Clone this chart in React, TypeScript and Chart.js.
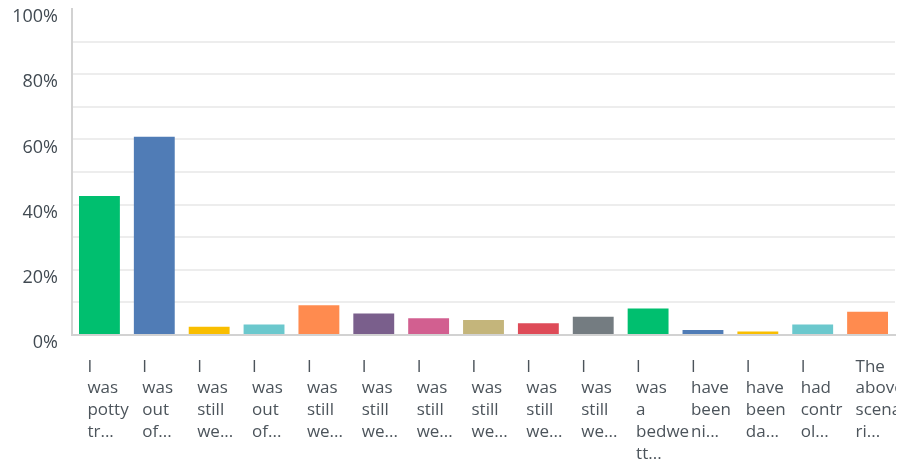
import React, { useEffect, useRef } from 'react';
import { Chart, registerables } from 'chart.js';

Chart.register(...registerables);

const categories: string[][] = [
  ['I', 'was', 'potty', 'tr...'],
  ['I', 'was', 'out', 'of...'],
  ['I', 'was', 'still', 'we...'],
  ['I', 'was', 'out', 'of...'],
  ['I', 'was', 'still', 'we...'],
  ['I', 'was', 'still', 'we...'],
  ['I', 'was', 'still', 'we...'],
  ['I', 'was', 'still', 'we...'],
  ['I', 'was', 'still', 'we...'],
  ['I', 'was', 'still', 'we...'],
  ['I', 'was', 'a', 'bedwe', 'tt...'],
  ['I', 'have', 'been', 'ni...'],
  ['I', 'have', 'been', 'da...'],
  ['I', 'had', 'contr', 'ol...'],
  ['The', 'above', 'scena', 'ri...'],
];

const percentages: number[] = [42.6, 60.8, 2.5, 3.2, 9.1, 6.6, 5.1, 4.6, 3.6, 5.6, 8.1, 1.5, 1.1, 3.2, 7.1];

const barColors: string[] = [
  '#00BF6F', '#507CB6', '#F9BE00', '#6BC8CD', '#FF8B4F',
  '#7A5F8C', '#D25F90', '#C4B57B', '#DE4B58', '#747C81',
  '#00BF6F', '#507CB6', '#F9BE00', '#6BC8CD', '#FF8B4F',
];

const yMin = 0;
const yMax = 100;
const yStep = 10;
const yLabelEvery = 20;

export default function App() {
  const canvasRef = useRef<HTMLCanvasElement | null>(null);

  useEffect(() => {
    const canvas = canvasRef.current;
    if (!canvas) return;
    const chart = new Chart(canvas, {
      type: 'bar',
      data: {
        labels: categories,
        datasets: [
          {
            data: percentages,
            backgroundColor: barColors,
            borderWidth: 0,
            barPercentage: 0.745,
            categoryPercentage: 1,
          },
        ],
      },
      options: {
        animation: false,
        responsive: false,
        maintainAspectRatio: false,
        layout: { padding: { top: 9, right: 1, bottom: 0, left: 0 } },
        plugins: {
          legend: { display: false },
          tooltip: { enabled: false },
        },
        scales: {
          x: {
            offset: true,
            grid: { display: true, color: 'rgba(0,0,0,0)', drawTicks: false },
            border: { display: true, color: '#d2d2d2', width: 2 },
            ticks: {
              autoSkip: false,
              maxRotation: 0,
              minRotation: 0,
              align: 'start',
              labelOffset: -12,
              padding: 21,
              color: '#4c545b',
              font: { family: '"Open Sans", sans-serif', size: 17, lineHeight: 1.28 },
            },
            afterFit: (scale: any) => {
              scale.height = 133;
              scale.paddingLeft = 0;
              scale.paddingRight = 0;
            },
          },
          y: {
            min: yMin,
            max: yMax,
            grid: {
              drawTicks: false,
              lineWidth: 2,
              color: (ctx: any) =>
                ctx.tick && (ctx.tick.value === yMax || ctx.tick.value === yMin)
                  ? 'rgba(0,0,0,0)'
                  : '#ededed',
            },
            border: { display: true, color: '#d2d2d2', width: 2 },
            ticks: {
              stepSize: yStep,
              padding: 14,
              labelOffset: 8,
              color: '#414a52',
              font: { family: '"Open Sans", sans-serif', size: 18, lineHeight: 1 },
              callback: (v: any) => (Number(v) % yLabelEvery === 0 ? `${v}%` : ''),
            },
            afterFit: (scale: any) => {
              scale.width = 72;
              scale.paddingTop = 0;
              scale.paddingBottom = 0;
            },
          },
        },
      },
    });
    return () => chart.destroy();
  }, []);

  return (
    <div style={{ position: 'absolute', left: 0, top: 0, width: 896, height: 468, background: '#fff' }}>
      <canvas ref={canvasRef} width={896} height={468} />
    </div>
  );
}
